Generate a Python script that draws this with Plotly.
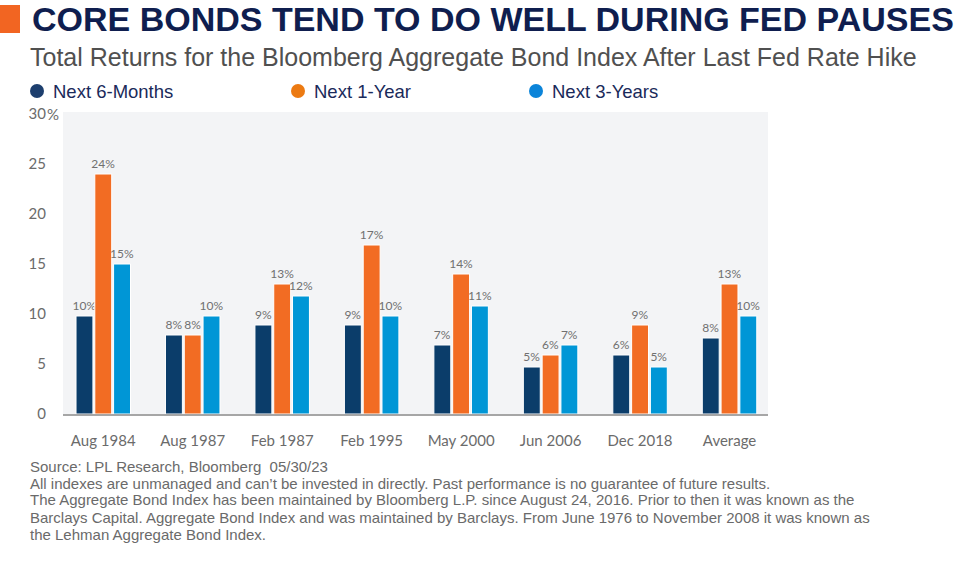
import plotly.graph_objects as go

categories = ["Aug 1984", "Aug 1987", "Feb 1987", "Feb 1995", "May 2000", "Jun 2006", "Dec 2018", "Average"]
next_6_months = [9.8, 7.9, 8.9, 8.9, 6.9, 4.7, 5.9, 7.6]
next_1_year = [24.0, 7.9, 13.0, 16.9, 14.0, 5.9, 8.9, 13.0]
next_3_years = [15.0, 9.8, 11.8, 9.8, 10.8, 6.9, 4.7, 9.8]
series_names = ["Next 6-Months", "Next 1-Year", "Next 3-Years"]
y_tick_values = [0, 5, 10, 15, 20, 25, 30]
y_tick_text = ["0", "5", "10", "15", "20", "25", "30"]

title_text = "CORE BONDS TEND TO DO WELL DURING FED PAUSES"
subtitle_text = "Total Returns for the Bloomberg Aggregate Bond Index After Last Fed Rate Hike"
footnote_lines = [
    "Source: LPL Research, Bloomberg  05/30/23",
    "All indexes are unmanaged and can\u2019t be invested in directly. Past performance is no guarantee of future results.",
    "The Aggregate Bond Index has been maintained by Bloomberg L.P. since August 24, 2016. Prior to then it was known as the",
    "Barclays Capital. Aggregate Bond Index and was maintained by Barclays. From June 1976 to November 2008 it was known as",
    "the Lehman Aggregate Bond Index.",
]

bar_colors = ["#0b3d6a", "#f26c23", "#0096d6"]
legend_colors = ["#1d3f6e", "#ec7a12", "#0b84d9"]

W, H = 975, 561
L, R, T, B = 63, 768, 112, 414
PW, PH = R - L, B - T
Y_MAX = 30.2


def xp(px):
    return (px - L) / PW


def yp(py):
    return (B - py) / PH


fig = go.Figure()
for name, vals, col in zip(series_names, [next_6_months, next_1_year, next_3_years], bar_colors):
    fig.add_trace(go.Bar(
        x=categories, y=vals, name=name,
        marker=dict(color=col, line=dict(color="white", width=1)),
        texttemplate="%{y:.0f}%", textposition="outside", constraintext="none",
        textfont=dict(family="Lato", size=12, color="#707070"),
        cliponaxis=False, showlegend=False,
    ))

fig.update_layout(
    width=W, height=H,
    margin=dict(l=L, r=W - R, t=T, b=H - B, pad=0),
    paper_bgcolor="white", plot_bgcolor="#f3f4f6",
    barmode="group", bargap=0.37, bargroupgap=0.1,
    font=dict(family="Lato", color="#666666"),
    xaxis=dict(
        range=[-0.45, 7.43], showgrid=False, zeroline=False,
        showline=True, linecolor="#a6a6a6", linewidth=1.5,
        ticks="", tickfont=dict(family="Lato", size=15, color="#6b6b6b"),
        ticklabelstandoff=12,
    ),
    yaxis=dict(
        range=[0, Y_MAX], showgrid=False, zeroline=False, showline=False,
        tickmode="array", tickvals=y_tick_values, ticktext=y_tick_text,
        tickfont=dict(family="Lato", size=15, color="#6b6b6b"),
        ticklabelstandoff=16,
    ),
)

shapes = [dict(type="rect", xref="paper", yref="paper",
               x0=xp(0), x1=xp(20), y0=yp(33), y1=yp(5),
               fillcolor="#f26522", line=dict(width=0))]
legend_x = [37, 298, 536]
for cx, col in zip(legend_x, legend_colors):
    shapes.append(dict(type="circle", xref="paper", yref="paper",
                       x0=xp(cx - 7), x1=xp(cx + 7), y0=yp(98), y1=yp(84),
                       fillcolor=col, line=dict(width=0)))
fig.update_layout(shapes=shapes)

ann = []
ann.append(dict(text="<b>" + title_text + "</b>", x=xp(30), y=yp(19), xref="paper", yref="paper",
                xanchor="left", yanchor="middle", showarrow=False,
                font=dict(family="Liberation Sans", size=34, color="#0f1e4f")))
ann.append(dict(text=subtitle_text, x=xp(28), y=yp(57), xref="paper", yref="paper",
                xanchor="left", yanchor="middle", showarrow=False,
                font=dict(family="Liberation Sans", size=25, color="#505050")))
for cx, name in zip(legend_x, series_names):
    ann.append(dict(text=name, x=xp(cx + 14), y=yp(91), xref="paper", yref="paper",
                    xanchor="left", yanchor="middle", showarrow=False,
                    font=dict(family="Liberation Sans", size=18.5, color="#1a2a5a")))
ann.append(dict(text="%", x=xp(46), y=yp(B - 30.0 * PH / Y_MAX), xref="paper", yref="paper",
                xanchor="left", yanchor="middle", showarrow=False, borderpad=0,
                font=dict(family="Lato", size=15, color="#6b6b6b")))
for i, line in enumerate(footnote_lines):
    ann.append(dict(text=line, x=xp(28), y=yp(466 + i * 17), xref="paper", yref="paper",
                    xanchor="left", yanchor="middle", showarrow=False,
                    font=dict(family="Liberation Sans", size=15, color="#6a6a6a")))
fig.update_layout(annotations=ann)

fig.write_html("out.html", config={"displayModeBar": False},
               post_script="document.body.style.margin='0';window.dispatchEvent(new Event('resize'));")
